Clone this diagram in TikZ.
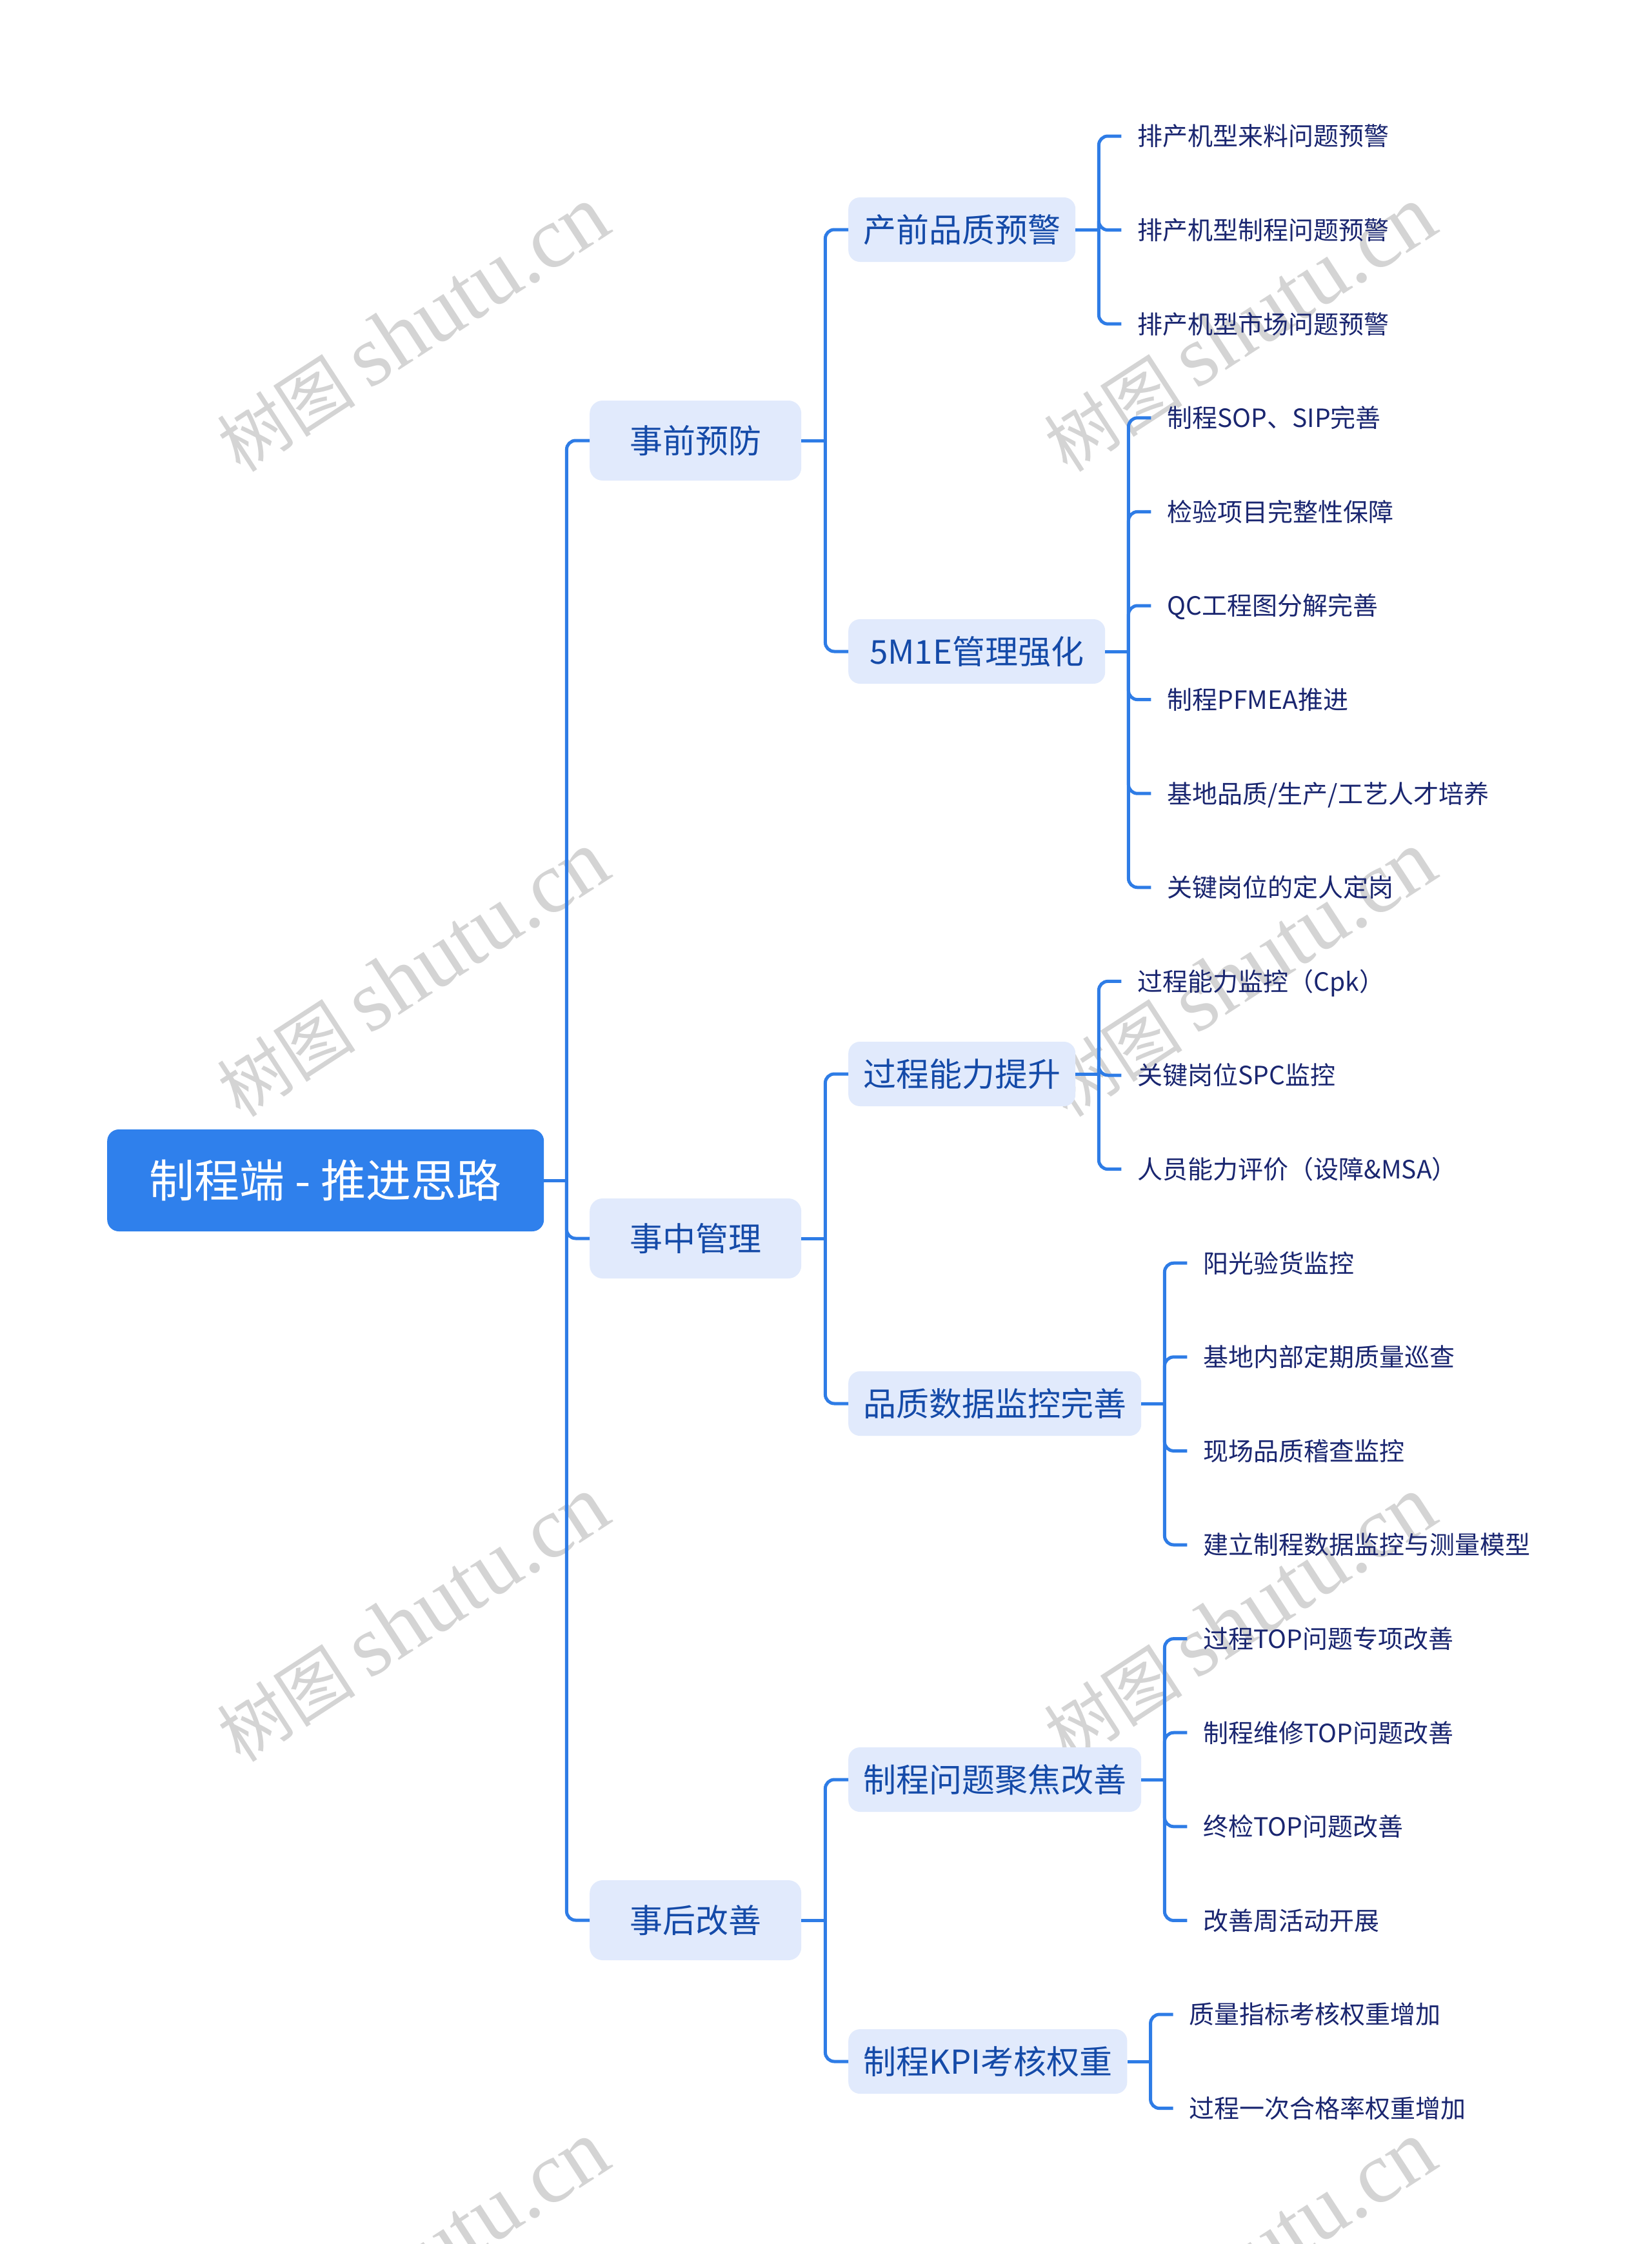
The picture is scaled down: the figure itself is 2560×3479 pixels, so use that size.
\documentclass[tikz,border=0pt]{standalone}
\usepackage{fontspec}
\setmainfont{Noto Sans CJK SC}
\newfontfamily\wmlatin{Liberation Serif}
\usetikzlibrary{calc}
\definecolor{linecol}{RGB}{46,124,230}
\definecolor{rootfill}{RGB}{47,128,236}
\definecolor{boxfill}{RGB}{225,234,252}
\definecolor{boxtext}{RGB}{20,74,168}
\definecolor{leaftext}{RGB}{26,38,112}
\definecolor{wmgray}{RGB}{212,212,212}
\tikzset{
  rootbox/.style={fill=rootfill, rounded corners=18pt, text=white,
    font=\fontsize{70pt}{80pt}\selectfont, minimum width=677pt, minimum height=158pt,
    inner sep=0pt, text height=61.6pt, text depth=8.4pt, anchor=west},
  topicbox/.style={fill=boxfill, rounded corners=20pt, text=boxtext,
    font=\fontsize{51pt}{60pt}\selectfont, minimum width=328pt, minimum height=124pt,
    inner sep=0pt, text height=44.9pt, text depth=6.1pt, anchor=west},
  subbox/.style={fill=boxfill, rounded corners=18pt, text=boxtext,
    font=\fontsize{51pt}{60pt}\selectfont, minimum height=100pt,
    inner xsep=23pt, inner ysep=0pt, text height=44.9pt, text depth=6.1pt, anchor=west},
  leaf/.style={text=leaftext, font=\fontsize{39pt}{46pt}\selectfont,
    inner xsep=25pt, inner ysep=0pt, text height=34.3pt, text depth=4.7pt, anchor=west},
  link/.style={draw=linecol, line width=5pt},
  curve/.style={link, rounded corners=14pt},
  wm/.style={text=wmgray, rotate=33, inner sep=0pt}
}
\begin{document}
\begin{tikzpicture}[x=1pt,y=-1pt]
\fill[white] (0,0) rectangle (2560,3479);
\useasboundingbox (0,0) rectangle (2560,3479);

% watermarks
\foreach \wx/\wn in {640/L,1922/R}{
  \foreach \wy/\wm in {510/a,1510/b,2510/c,3510/d}{
    \node[wm] (wm\wn\wm) at (\wx,\wy)
      {{\fontsize{108pt}{108pt}\selectfont 树图}\hspace{22pt}{\wmlatin\fontsize{135pt}{135pt}\selectfont shutu.cn}};
  }
}

% rows for leaves
\foreach \i in {0,...,21}{\coordinate (r\i) at (0,{211+145.6*\i});}

% nodes
\node[rootbox] (root) at (166,1830) {制程端 - 推进思路};
\node[topicbox] (a1) at (914,683) {事前预防};
\node[topicbox] (a2) at (914,1920) {事中管理};
\node[topicbox] (a3) at (914,2977) {事后改善};
\node[subbox] (b1) at (1315,356) {产前品质预警};
\node[subbox, minimum width=398pt] (b2) at (1315,1010) {5M1E管理强化};
\node[subbox] (b3) at (1315,1665) {过程能力提升};
\node[subbox, minimum width=448pt] (b4) at (1315,2176) {品质数据监控完善};
\node[subbox, minimum width=448pt] (b5) at (1315,2759) {制程问题聚焦改善};
\node[subbox, minimum width=426pt] (b6) at (1315,3196) {制程KPI考核权重};

\foreach \b in {b1,b2,b3,b4,b5,b6}{
  \coordinate (v\b) at ($(\b.east)+(36,0)$);
  \coordinate (w\b) at ($(\b.east)+(71,0)$);
}

\node[leaf] (l0) at (wb1 |- r0) {排产机型来料问题预警};
\node[leaf] (l1) at (wb1 |- r1) {排产机型制程问题预警};
\node[leaf] (l2) at (wb1 |- r2) {排产机型市场问题预警};
\node[leaf] (l3) at (wb2 |- r3) {制程SOP、SIP完善};
\node[leaf] (l4) at (wb2 |- r4) {检验项目完整性保障};
\node[leaf] (l5) at (wb2 |- r5) {QC工程图分解完善};
\node[leaf] (l6) at (wb2 |- r6) {制程PFMEA推进};
\node[leaf] (l7) at (wb2 |- r7) {基地品质/生产/工艺人才培养};
\node[leaf] (l8) at (wb2 |- r8) {关键岗位的定人定岗};
\node[leaf] (l9) at (wb3 |- r9) {过程能力监控（Cpk）};
\node[leaf] (l10) at (wb3 |- r10) {关键岗位SPC监控};
\node[leaf] (l11) at (wb3 |- r11) {人员能力评价（设障\&MSA）};
\node[leaf] (l12) at (wb4 |- r12) {阳光验货监控};
\node[leaf] (l13) at (wb4 |- r13) {基地内部定期质量巡查};
\node[leaf] (l14) at (wb4 |- r14) {现场品质稽查监控};
\node[leaf] (l15) at (wb4 |- r15) {建立制程数据监控与测量模型};
\node[leaf] (l16) at (wb5 |- r16) {过程TOP问题专项改善};
\node[leaf] (l17) at (wb5 |- r17) {制程维修TOP问题改善};
\node[leaf] (l18) at (wb5 |- r18) {终检TOP问题改善};
\node[leaf] (l19) at (wb5 |- r19) {改善周活动开展};
\node[leaf] (l20) at (wb6 |- r20) {质量指标考核权重增加};
\node[leaf] (l21) at (wb6 |- r21) {过程一次合格率权重增加};

% connectors root -> topics
\coordinate (t0) at ($(root.east)+(35,0)$);
\draw[link] (root.east) -- (t0);
\foreach \c in {a1,a2,a3}{\draw[curve] (t0) |- (\c.west);}

% topics -> subtopics
\coordinate (ta1) at ($(a1.east)+(37,0)$);
\coordinate (ta2) at ($(a2.east)+(37,0)$);
\coordinate (ta3) at ($(a3.east)+(37,0)$);
\draw[link] (a1.east) -- (ta1);
\draw[link] (a2.east) -- (ta2);
\draw[link] (a3.east) -- (ta3);
\draw[curve] (ta1) |- (b1.west);
\draw[curve] (ta1) |- (b2.west);
\draw[curve] (ta2) |- (b3.west);
\draw[curve] (ta2) |- (b4.west);
\draw[curve] (ta3) |- (b5.west);
\draw[curve] (ta3) |- (b6.west);

% subtopics -> leaves
\foreach \b in {b1,b2,b3,b4,b5,b6}{\draw[link] (\b.east) -- (v\b);}
\foreach \l in {l0,l1,l2}{\draw[curve] (vb1) |- (\l.west);}
\foreach \l in {l3,l4,l5,l6,l7,l8}{\draw[curve] (vb2) |- (\l.west);}
\foreach \l in {l9,l10,l11}{\draw[curve] (vb3) |- (\l.west);}
\foreach \l in {l12,l13,l14,l15}{\draw[curve] (vb4) |- (\l.west);}
\foreach \l in {l16,l17,l18,l19}{\draw[curve] (vb5) |- (\l.west);}
\foreach \l in {l20,l21}{\draw[curve] (vb6) |- (\l.west);}
\end{tikzpicture}
\end{document}
